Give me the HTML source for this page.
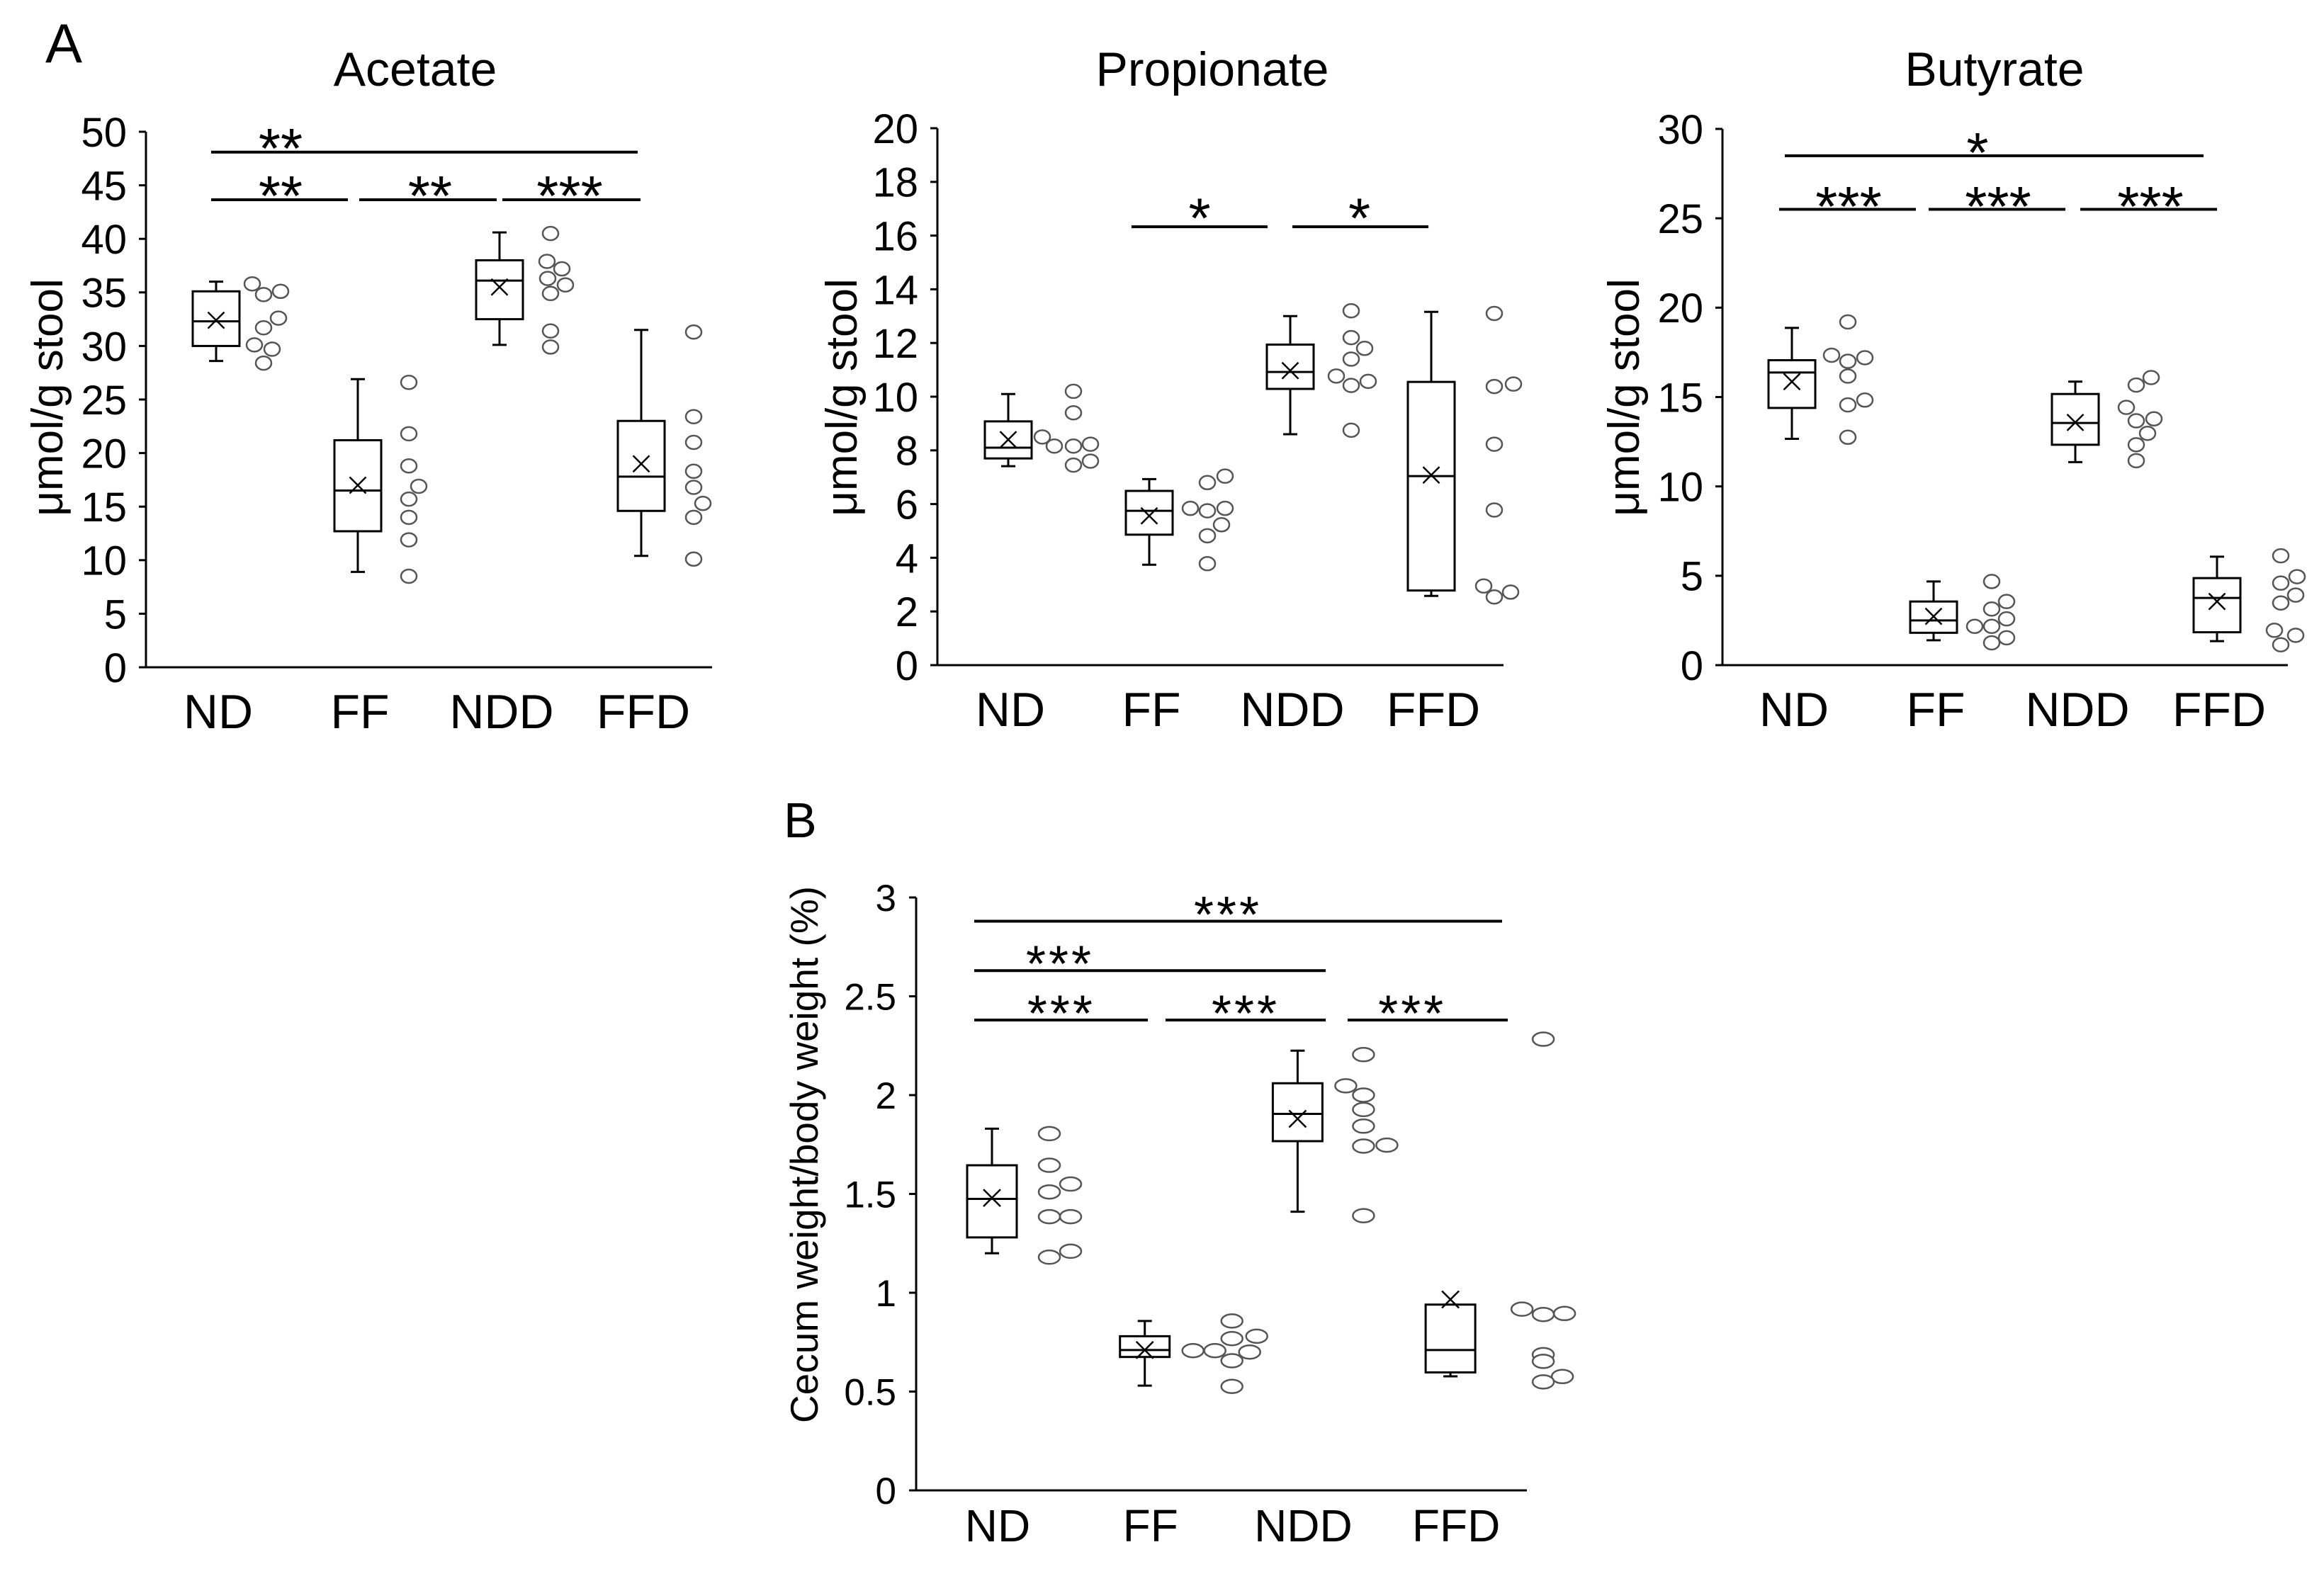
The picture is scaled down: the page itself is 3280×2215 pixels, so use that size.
<!DOCTYPE html>
<html><head><meta charset="utf-8"><title>SCFA and cecum weight box plots</title>
<style>
html,body{margin:0;padding:0;background:#fff;}
svg{display:block;}
text{font-family:"Liberation Sans",Arial,sans-serif;fill:#000;}
</style></head>
<body>
<svg id="fig" width="3280" height="2215" viewBox="0 0 3280 2215" xmlns="http://www.w3.org/2000/svg">
<rect x="0" y="0" width="3280" height="2215" fill="#fff"/>
<text x="64" y="88" font-size="78">A</text>
<text x="1106" y="1182" font-size="70">B</text>
</svg>
<script>
// ---------- shared categories ----------
const categories = ["ND", "FF", "NDD", "FFD"];

// ---------- Acetate ----------
const acetateTicks = [0, 5, 10, 15, 20, 25, 30, 35, 40, 45, 50];
const acetateLow = [28.6, 8.9, 30.1, 10.4];
const acetateQ1 = [30.0, 12.7, 32.5, 14.6];
const acetateMedian = [32.3, 16.5, 36.1, 17.8];
const acetateQ3 = [35.1, 21.2, 38.0, 23.0];
const acetateHigh = [36.0, 26.9, 40.6, 31.5];
const acetateMean = [32.4, 17.0, 35.5, 19.0];
const acetateDots = [
  [35.8, 34.8, 35.1, 32.6, 31.7, 30.1, 29.7, 28.4],
  [26.6, 21.8, 18.8, 16.9, 15.7, 14.0, 11.9, 8.5],
  [40.5, 37.9, 37.2, 36.3, 35.7, 34.9, 31.4, 29.9],
  [31.3, 23.4, 21.0, 18.3, 16.8, 15.3, 14.0, 10.1]
];
const acetateDotDx = [
  [51, 67, 91, 88, 67, 54, 79, 67],
  [72, 72, 72, 86, 72, 72, 72, 72],
  [72, 67, 88, 68, 93, 72, 72, 72],
  [74, 74, 74, 74, 74, 87, 74, 74]
];
// [fromCat, toCat, level, label, starCat]
const acetateSig = [
  [-0.035, 2.975, 48.1, "**", 0.455],
  [-0.035, 0.93, 43.65, "**", 0.455],
  [1.01, 1.98, 43.65, "**", 1.51],
  [2.02, 2.995, 43.65, "***", 2.495]
];

// ---------- Propionate ----------
const propionateTicks = [0, 2, 4, 6, 8, 10, 12, 14, 16, 18, 20];
const propionateLow = [7.41, 3.74, 8.6, 2.58];
const propionateQ1 = [7.7, 4.86, 10.29, 2.78];
const propionateMedian = [8.1, 5.75, 10.92, 7.04];
const propionateQ3 = [9.08, 6.49, 11.94, 10.55];
const propionateHigh = [10.1, 6.93, 13.0, 13.16];
const propionateMean = [8.4, 5.56, 10.97, 7.08];
const propionateDots = [
  [8.5, 8.16, 10.2, 9.4, 8.16, 8.23, 7.45, 7.6],
  [5.84, 6.8, 7.04, 5.75, 5.84, 5.23, 4.82, 3.78],
  [13.2, 12.2, 11.8, 11.4, 10.77, 10.42, 10.57, 8.75],
  [13.1, 10.38, 10.47, 8.23, 5.78, 2.95, 2.54, 2.72]
];
const propionateDotDx = [
  [48, 65, 92, 92, 92, 116, 92, 116],
  [58, 82, 107, 82, 107, 102, 82, 82],
  [86, 86, 105, 86, 65, 86, 110, 86],
  [89, 89, 116, 89, 89, 74, 89, 112]
];
const propionateSig = [
  [0.874, 1.839, 16.33, "*", 1.357],
  [2.015, 2.98, 16.33, "*", 2.49]
];

// ---------- Butyrate ----------
const butyrateTicks = [0, 5, 10, 15, 20, 25, 30];
const butyrateLow = [12.66, 1.39, 11.36, 1.34];
const butyrateQ1 = [14.39, 1.81, 12.33, 1.84];
const butyrateMedian = [16.37, 2.5, 13.55, 3.76];
const butyrateQ3 = [17.06, 3.56, 15.17, 4.87];
const butyrateHigh = [18.87, 4.68, 15.86, 6.07];
const butyrateMean = [15.86, 2.73, 13.58, 3.56];
const butyrateDots = [
  [17.34, 19.2, 17.0, 17.2, 16.17, 14.83, 14.56, 12.75],
  [4.68, 2.17, 3.14, 3.56, 2.17, 2.59, 1.25, 1.53],
  [15.67, 16.09, 14.42, 13.67, 13.78, 12.97, 12.33, 11.44],
  [6.12, 4.59, 4.95, 3.92, 3.48, 1.95, 1.67, 1.14]
];
const butyrateDotDx = [
  [56, 79, 79, 103, 79, 103, 79, 79],
  [82, 58, 82, 103, 82, 103, 82, 103],
  [86, 107, 72, 86, 111, 102, 86, 86],
  [90, 90, 113, 111, 90, 81, 111, 90]
];
const butyrateSig = [
  [-0.05, 2.905, 28.5, "*", 1.31],
  [-0.09, 0.875, 25.5, "***", 0.4],
  [0.965, 1.93, 25.5, "***", 1.455],
  [2.035, 3.0, 25.5, "***", 2.53]
];

// ---------- Cecum (panel B) ----------
const cecumTicks = [0, 0.5, 1, 1.5, 2, 2.5, 3];
const cecumTickLabels = ["0", "0.5", "1", "1.5", "2", "2.5", "3"];
const cecumLow = [1.2, 0.53, 1.41, 0.577];
const cecumQ1 = [1.28, 0.675, 1.767, 0.597];
const cecumMedian = [1.475, 0.71, 1.905, 0.71];
const cecumQ3 = [1.645, 0.78, 2.06, 0.94];
const cecumHigh = [1.83, 0.857, 2.225, 0.94];
const cecumMean = [1.48, 0.71, 1.88, 0.966];
const cecumDots = [
  [1.805, 1.645, 1.55, 1.51, 1.385, 1.385, 1.21, 1.18],
  [0.707, 0.707, 0.857, 0.768, 0.656, 0.526, 0.70, 0.78],
  [2.205, 2.047, 2.0, 1.927, 1.843, 1.742, 1.747, 1.39],
  [2.283, 0.917, 0.89, 0.895, 0.687, 0.653, 0.576, 0.549]
];
const cecumDotDx = [
  [81, 81, 111, 81, 81, 111, 111, 81],
  [68, 99, 123, 123, 123, 123, 148, 158],
  [93, 68, 93, 93, 93, 93, 126, 93],
  [131, 101, 131, 161, 131, 131, 158, 131]
];
const cecumSig = [
  [-0.116, 3.338, 2.88, "***", 1.544],
  [-0.116, 2.184, 2.63, "***", 0.445],
  [-0.116, 1.02, 2.38, "***", 0.454],
  [1.136, 2.184, 2.38, "***", 1.66],
  [2.327, 3.375, 2.38, "***", 2.75]
];

const NS = "http://www.w3.org/2000/svg";
const svg = document.getElementById("fig");
function mk(tag, attrs, parent) {
  const e = document.createElementNS(NS, tag);
  for (const k in attrs) e.setAttribute(k, attrs[k]);
  (parent || svg).appendChild(e);
  return e;
}

function drawPanel(o) {
  const g = mk("g", {});
  
  
  const vmax = o.ticks[o.ticks.length - 1];
  const y = v => o.y0 - (v / vmax) * (o.y0 - o.yTop);
  const x = c => o.cat0 + c * o.catStep;

  if (o.title) {
    const t = mk("text", {x: o.titleX, y: o.titleY, "font-size": 68, "text-anchor": "middle"}, g);
    t.textContent = o.title;
    
    
  }
  const yl = mk("text", {x: 0, y: 0, "font-size": o.yLabelSize, "text-anchor": "middle",
    transform: "translate(" + o.yLabelX + "," + o.yLabelY + ") rotate(-90)"}, g);
  yl.textContent = o.yLabel;
  
  

  const ya = mk("line", {x1: o.ax, y1: o.yTop, x2: o.ax, y2: o.y0, stroke: "#000", "stroke-width": 3}, g);
  
  
  const xa = mk("line", {x1: o.ax - 10, y1: o.y0, x2: o.xEnd, y2: o.y0, stroke: "#000", "stroke-width": 3}, g);
  
  

  o.ticks.forEach((v, i) => {
    const tm = mk("line", {x1: o.ax - 10, y1: y(v), x2: o.ax, y2: y(v), stroke: "#000", "stroke-width": 3}, g);
    
    
    const tl = mk("text", {x: o.ax - o.tickGap, y: y(v) + o.tickSize * 0.36, "font-size": o.tickSize, "text-anchor": "end"}, g);
    tl.textContent = o.tickLabels ? o.tickLabels[i] : String(v);
    
    
  });

  categories.forEach((c, i) => {
    const cl = mk("text", {x: x(i) + o.labelDx, y: o.y0 + o.labelDy, "font-size": o.labelSize, "text-anchor": "middle"}, g);
    cl.textContent = c;
    
    
  });

  for (let i = 0; i < categories.length; i++) {
    const cx = x(i), hw = o.boxHW, cap = 10;
    const bg = mk("g", {}, g);
    
    
    const st = {stroke: "#000", "stroke-width": 3, fill: "none"};
    if (o.high[i] > o.q3[i]) {
      mk("line", Object.assign({x1: cx, y1: y(o.q3[i]), x2: cx, y2: y(o.high[i])}, st), bg);
      mk("line", Object.assign({x1: cx - cap, y1: y(o.high[i]), x2: cx + cap, y2: y(o.high[i])}, st), bg);
    }
    if (o.low[i] < o.q1[i]) {
      mk("line", Object.assign({x1: cx, y1: y(o.q1[i]), x2: cx, y2: y(o.low[i])}, st), bg);
      mk("line", Object.assign({x1: cx - cap, y1: y(o.low[i]), x2: cx + cap, y2: y(o.low[i])}, st), bg);
    }
    mk("rect", {x: cx - hw, y: y(o.q3[i]), width: 2 * hw, height: y(o.q1[i]) - y(o.q3[i]), fill: "#fff", stroke: "#000", "stroke-width": 3}, bg);
    mk("line", Object.assign({x1: cx - hw, y1: y(o.med[i]), x2: cx + hw, y2: y(o.med[i])}, st), bg);
    const m = o.mx, my = y(o.mean[i]);
    const mean = mk("path", {d: "M" + (cx - m) + "," + (my - m) + "L" + (cx + m) + "," + (my + m) + "M" + (cx - m) + "," + (my + m) + "L" + (cx + m) + "," + (my - m), stroke: "#000", "stroke-width": 2.5, fill: "none"}, bg);
    
    
    o.dots[i].forEach((v, j) => {
      const d = mk("ellipse", {cx: cx + o.dx[i][j], cy: y(v), rx: o.rx, ry: o.ry, fill: "#fff", stroke: "#555", "stroke-width": 2.5}, g);
      
      
    });
  }

  o.sig.forEach(s => {
    const ly = y(s[2]);
    const l = mk("line", {x1: x(s[0]), y1: ly, x2: x(s[1]), y2: ly, stroke: "#000", "stroke-width": 4}, g);
    
    
    const t = mk("text", {x: x(s[4]), y: ly - o.starGap + o.starSize * 0.59, "font-size": o.starSize, "text-anchor": "middle", "letter-spacing": o.starSpacing}, g);
    t.textContent = s[3];
    
    
  });
}

const aCommon = {tickSize: 58, tickGap: 27, labelSize: 68, labelDy: 86, labelDx: 3, boxHW: 33, mx: 11.5, rx: 11, ry: 9.5, yLabel: "μmol/g stool", yLabelSize: 62, yLabelY: 561, starSize: 80, starSpacing: 0, titleY: 121};

drawPanel(Object.assign({}, aCommon, {
  name: "acetate", title: "Acetate", titleX: 586, ax: 206, y0: 942, yTop: 186, xEnd: 1005, cat0: 305, catStep: 200,
  ticks: acetateTicks, low: acetateLow, q1: acetateQ1, med: acetateMedian, q3: acetateQ3, high: acetateHigh, mean: acetateMean,
  dots: acetateDots, dx: acetateDotDx, sig: acetateSig, yLabelX: 88, starGap: 25
}));
drawPanel(Object.assign({}, aCommon, {
  name: "propionate", title: "Propionate", titleX: 1711, ax: 1323, y0: 939, yTop: 181, xEnd: 2122, cat0: 1423, catStep: 199,
  ticks: propionateTicks, low: propionateLow, q1: propionateQ1, med: propionateMedian, q3: propionateQ3, high: propionateHigh, mean: propionateMean,
  dots: propionateDots, dx: propionateDotDx, sig: propionateSig, yLabelX: 1209, starGap: 32
}));
drawPanel(Object.assign({}, aCommon, {
  name: "butyrate", title: "Butyrate", titleX: 2815, ax: 2431, y0: 939, yTop: 182, xEnd: 3229, cat0: 2529, catStep: 200,
  ticks: butyrateTicks, low: butyrateLow, q1: butyrateQ1, med: butyrateMedian, q3: butyrateQ3, high: butyrateHigh, mean: butyrateMean,
  dots: butyrateDots, dx: butyrateDotDx, sig: butyrateSig, yLabelX: 2313, starGap: 24
}));
drawPanel({
  name: "cecum", title: null, ax: 1293, y0: 2104, yTop: 1267, xEnd: 2155, cat0: 1400, catStep: 215.7,
  ticks: cecumTicks, tickLabels: cecumTickLabels, tickSize: 53, tickGap: 28, labelSize: 64, labelDy: 72, labelDx: 8,
  boxHW: 35, mx: 12, rx: 15, ry: 9.5,
  low: cecumLow, q1: cecumQ1, med: cecumMedian, q3: cecumQ3, high: cecumHigh, mean: cecumMean,
  dots: cecumDots, dx: cecumDotDx, sig: cecumSig,
  yLabel: "Cecum weight/body weight (%)", yLabelSize: 55, yLabelX: 1154, yLabelY: 1630,
  starSize: 72, starSpacing: 4, starGap: 27
});
</script>
</body></html>
